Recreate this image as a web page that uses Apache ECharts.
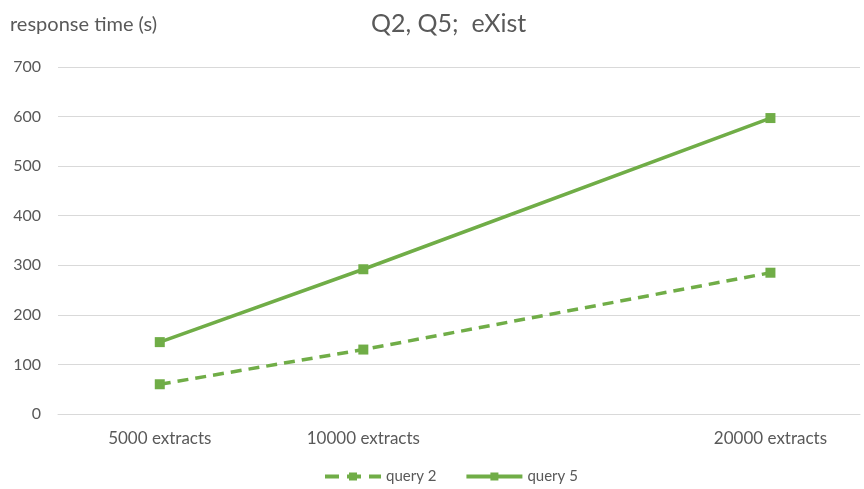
<!DOCTYPE html>
<html>
<head>
<meta charset="utf-8">
<script src="https://cdn.jsdelivr.net/npm/echarts@6/dist/echarts.min.js"></script>
<style>
  html, body { margin: 0; padding: 0; background: #fff; }
  #chart { width: 864px; height: 489px; }
</style>
</head>
<body>
<div id="chart"></div>
<script>
// extracts count on x, response time (s) on y
const extracts = [5000, 10000, 20000];
const query2 = [60, 130, 285];
const query5 = [145, 292, 597];
const xLabels = { 5000: '5000 extracts', 10000: '10000 extracts', 20000: '20000 extracts' };

const green = '#70ad47';
const textColor = '#595959';
const gridColor = '#d9d9d9';

const chart = echarts.init(document.getElementById('chart'));

const pairs = (ys) => extracts.map((x, i) => [x, ys[i]]);

chart.setOption({
    animation: false,
    textStyle: { fontFamily: 'Lato' },
    title: {
        text: 'Q2, Q5;  eXist',
        left: 366,
        top: 6,
        textStyle: { fontSize: 25, fontWeight: 'normal', color: textColor, fontFamily: 'Lato' }
    },
    grid: { left: 58, right: 4, top: 67, bottom: 75 },
    legend: {
        bottom: 0,
        left: 318,
        itemWidth: 56,
        itemHeight: 10,
        itemGap: 28,
        textStyle: { fontSize: 15, color: textColor },
        data: [
            { name: 'query 2', lineStyle: { width: 4, type: [14, 8] } },
            { name: 'query 5', lineStyle: { width: 4 } }
        ]
    },
    xAxis: {
        type: 'value',
        min: 2500,
        max: 22200,
        interval: 2500,
        axisLine: { show: true, lineStyle: { color: gridColor, width: 1 } },
        axisTick: { show: false },
        splitLine: { show: false },
        axisLabel: {
            color: textColor,
            fontSize: 17,
            margin: 16,
            showMaxLabel: false,
            formatter: (v) => xLabels[v] || ''
        }
    },
    yAxis: {
        type: 'value',
        name: 'response time (s)',
        nameLocation: 'end',
        nameGap: 32,
        nameTextStyle: { color: textColor, fontSize: 20, align: 'left', padding: [0, 0, 0, -48] },
        min: 0,
        max: 700,
        interval: 100,
        axisLine: { show: false },
        axisTick: { show: false },
        axisLabel: { color: textColor, fontSize: 16, margin: 17 },
        splitLine: { lineStyle: { color: gridColor, width: 1 } }
    },
    series: [
        {
            name: 'query 2',
            type: 'line',
            data: pairs(query2),
            symbol: 'rect',
            symbolSize: 10,
            itemStyle: { color: green },
            lineStyle: { color: green, width: 3.5, type: [11, 7] }
        },
        {
            name: 'query 5',
            type: 'line',
            data: pairs(query5),
            symbol: 'rect',
            symbolSize: 10,
            itemStyle: { color: green },
            lineStyle: { color: green, width: 3.5 }
        }
    ]
});
</script>
</body>
</html>
